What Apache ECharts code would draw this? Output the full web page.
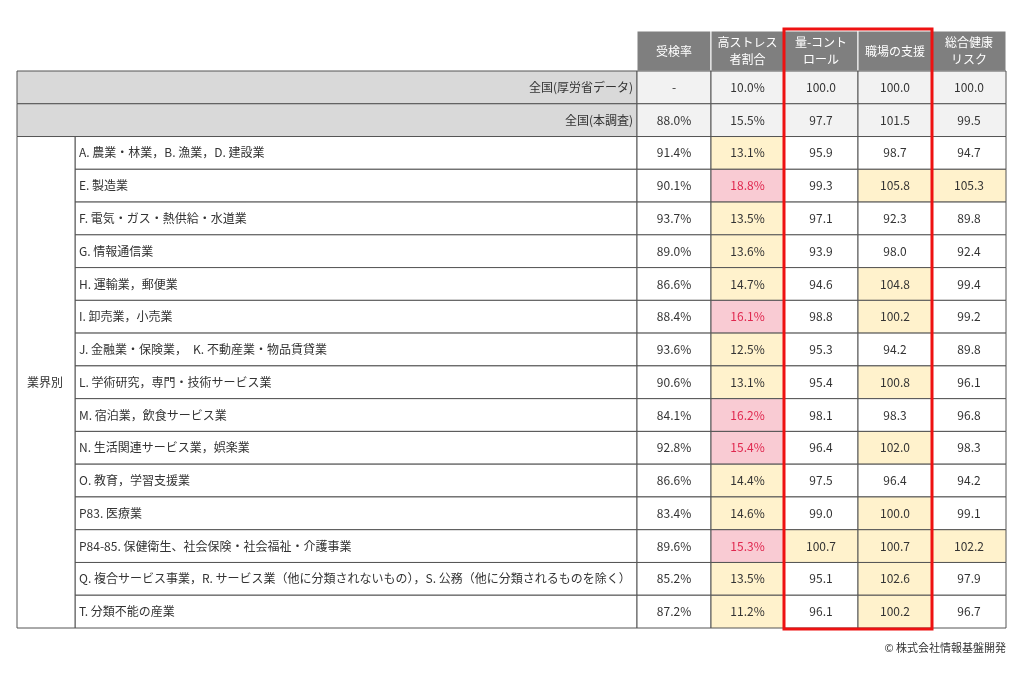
<!DOCTYPE html>
<html><head><meta charset="utf-8">
<script src="https://cdn.jsdelivr.net/npm/echarts@6/dist/echarts.min.js"></script>
<style>html,body{margin:0;padding:0;background:#fff}#c{width:1024px;height:680px}</style>
</head><body><div id="c"></div>
<script>
const headers = ['受検率','高ストレス\n者割合','量-コント\nロール','職場の支援','総合健康\nリスク'];
const rowNames = ['全国(厚労省データ)','全国(本調査)',
'A. 農業・林業，B. 漁業，D. 建設業','E. 製造業','F. 電気・ガス・熱供給・水道業','G. 情報通信業','H. 運輸業，郵便業','I. 卸売業，小売業','J. 金融業・保険業，　K. 不動産業・物品賃貸業','L. 学術研究，専門・技術サービス業','M. 宿泊業，飲食サービス業','N. 生活関連サービス業，娯楽業','O. 教育，学習支援業','P83. 医療業','P84-85. 保健衛生、社会保険・社会福祉・介護事業','Q. 複合サービス事業，R. サービス業（他に分類されないもの），S. 公務（他に分類されるものを除く）','T. 分類不能の産業'];
const groupLabel = '業界別';
const examRate = ['-','88.0%','91.4%','90.1%','93.7%','89.0%','86.6%','88.4%','93.6%','90.6%','84.1%','92.8%','86.6%','83.4%','89.6%','85.2%','87.2%'];
const highStress = [10.0,15.5,13.1,18.8,13.5,13.6,14.7,16.1,12.5,13.1,16.2,15.4,14.4,14.6,15.3,13.5,11.2];
const control = [100.0,97.7,95.9,99.3,97.1,93.9,94.6,98.8,95.3,95.4,98.1,96.4,97.5,99.0,100.7,95.1,96.1];
const support = [100.0,101.5,98.7,105.8,92.3,98.0,104.8,100.2,94.2,100.8,98.3,102.0,96.4,100.0,100.7,102.6,100.2];
const totalRisk = [100.0,99.5,94.7,105.3,89.8,92.4,99.4,99.2,89.8,96.1,96.8,98.3,94.2,99.1,102.2,97.9,96.7];

const edges=[0,58,620,694,767,841,915,989];
const FONT='"Noto Sans CJK JP", sans-serif';
const BORDER='#555';
const items=[];
rowNames.forEach((n,r)=>{
  const top=r<2;
  if(top) items.push({value:[0,r,'name',n,2]});
  else items.push({value:[1,r,'name',n,1]});
  const hs=highStress[r];
  let hsBg=top?'#f2f2f2':'#fff',hsCol='#333';
  if(!top){ if(hs>15){hsBg='#f9cbd3';hsCol='#e0284f';} else if(hs>10) hsBg='#fff2cc'; }
  const cells=[[examRate[r],top?'#f2f2f2':'#fff','#333'],[hs.toFixed(1)+'%',hsBg,hsCol]];
  [control[r],support[r],totalRisk[r]].forEach(v=>{
    cells.push([v.toFixed(1),top?'#f2f2f2':(v>=100?'#fff2cc':'#fff'),'#333']);
  });
  cells.forEach((c,i)=>items.push({value:[2+i,r,'cell',c[0],1,c[1],c[2]]}));
});
items.push({value:[0,2,'group',groupLabel,1,15]});

function renderItem(params,api){
  const ci=api.value(0), r=api.value(1), kind=api.value(2), txt=api.value(3), span=api.value(4);
  const d=items[params.dataIndex].value;
  const rh=api.size([0,1])[1];
  const x0=api.coord([edges[ci],r])[0];
  const x1=api.coord([edges[ci+(kind==='group'?1:span)],r])[0];
  const yc=api.coord([0,r])[1];
  let y0=yc-rh/2, h=rh;
  if(kind==='group'){h=rh*d[5];}
  let fill='#fff', color='#333', align='left', tx=x0+4;
  if(kind==='name'){ if(r<2){fill='#d9d9d9';align='right';tx=x1-4;} }
  else if(kind==='cell'){ fill=d[5]; color=d[6]; align='center'; tx=(x0+x1)/2; }
  else { align='left'; tx=x0+10; }
  return {type:'group',children:[
    {type:'rect',shape:{x:x0,y:y0,width:x1-x0,height:h},style:{fill:fill,stroke:BORDER,lineWidth:1}},
    {type:'text',style:{x:tx,y:y0+h/2,text:txt,fill:color,align:align,verticalAlign:'middle',font:'12px '+FONT}}
  ]};
}
const chart=echarts.init(document.getElementById('c'));
const hdr=headers.map((h,i)=>{
  const x=17+edges[2+i], w=edges[3+i]-edges[2+i];
  return {type:'group',children:[
    {type:'rect',shape:{x:x,y:31,width:w,height:40},style:{fill:'#7f7f7f',stroke:'#fff',lineWidth:1}},
    {type:'text',style:{x:x+w/2,y:51,text:h,fill:'#fff',align:'center',verticalAlign:'middle',font:'12px '+FONT,lineHeight:17}}
  ]};
});
chart.setOption({
  animation:false,
  grid:{left:17,right:18,top:71,bottom:52},
  xAxis:{type:'value',min:0,max:989,show:false},
  yAxis:{type:'category',data:rowNames.map((_,i)=>i),inverse:true,show:false},
  series:[{type:'custom',renderItem:renderItem,data:items,clip:false}],
  graphic:hdr.concat([
    {type:'rect',shape:{x:784,y:29,width:148,height:600},style:{fill:'none',stroke:'#ee1111',lineWidth:3},z:100},
    {type:'text',style:{x:1006,y:648,text:'© 株式会社情報基盤開発',align:'right',verticalAlign:'middle',fill:'#333',font:'11px '+FONT}}
  ])
});
</script></body></html>
